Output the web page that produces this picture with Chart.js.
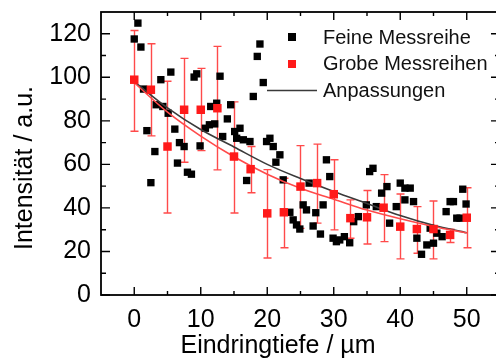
<!DOCTYPE html>
<html lang="de">
<head>
<meta charset="utf-8">
<title>Intensität über Eindringtiefe</title>
<script src="https://cdn.jsdelivr.net/npm/chart.js@4.4.1/dist/chart.umd.min.js"></script>
<style>
  html, body { margin: 0; padding: 0; background: #fff; }
  canvas { display: block; }
</style>
</head>
<body>
<canvas id="chart" width="496" height="360"></canvas>
<script>
/* global Chart */

// Feine Messreihe (black squares)
const fineX = [0.55, 0.0, 1.0, 1.4, 1.9, 2.5, 3.1, 3.3, 4.0, 4.3, 5.1, 5.5, 6.1, 6.5, 6.8, 7.5,
  8.0, 8.6, 9.0, 9.4, 9.9, 10.7, 11.3, 11.5, 12.1, 12.4, 12.9, 13.3, 14.0, 14.5, 15.1, 15.4,
  15.9, 16.4, 16.9, 17.4, 17.9, 18.5, 18.9, 19.4, 19.9, 20.4, 20.9, 21.3, 21.9, 22.4, 23.4,
  23.9, 24.4, 24.9, 25.4, 25.9, 26.3, 26.9, 27.3, 28.0, 28.4, 28.9, 29.4, 29.9, 30.4, 30.9,
  31.6, 32.4, 33.0, 33.7, 34.9, 35.4, 35.9, 36.4, 37.2, 38.0, 38.4, 39.4, 40.0, 40.7, 41.5,
  40.7, 42.0, 42.5, 43.2, 44.0, 45.0, 44.5, 45.5, 46.3, 46.9, 47.5, 48.0, 48.5, 49.0, 49.4, 49.9];
const fineY = [124.9, 117.6, 113.9, 94.6, 75.5, 51.6, 65.9, 87.4, 98.9, 86.6, 83.5, 102.4, 76.2,
  60.6, 70.0, 68.2, 56.4, 55.5, 100.1, 101.6, 68.5, 76.6, 78.2, 86.6, 78.6, 88.1, 100.5, 72.8,
  80.9, 87.4, 75.1, 72.0, 76.6, 71.3, 52.6, 70.5, 91.2, 109.6, 115.3, 97.6, 70.5, 72.0, 68.2,
  61.0, 64.4, 52.9, 38.0, 34.5, 32.2, 30.3, 41.4, 39.1, 51.4, 31.7, 37.8, 28.0, 41.4, 62.1,
  54.4, 26.1, 24.5, 25.3, 26.8, 24.0, 33.7, 36.0, 41.4, 56.7, 58.2, 40.6, 46.8, 49.8, 33.0,
  40.6, 51.4, 49.1, 49.1, 43.7, 42.9, 26.1, 18.7, 23.0, 23.8, 30.7, 28.4, 26.8, 38.3, 42.9,
  42.9, 35.3, 35.3, 48.6, 41.8];

// Grobe Messreihen (red squares with error bars)
const coarseX = [0, 2.5, 5, 7.5, 10, 12.5, 15, 17.5, 20, 22.5, 25, 27.5, 30, 32.5, 35, 37.5,
  40, 42.5, 45, 47.5, 50];
const coarseY = [98.9, 94.3, 68.2, 85.1, 85.1, 85.8, 63.6, 57.8, 37.5, 38.0, 49.8, 51.4, 46.3,
  35.3, 35.7, 40.1, 31.4, 30.3, 30.3, 27.6, 35.5];
const coarseHigh = [121.5, 115.4, 98.2, 108.7, 104.1, 114.2, 88.7, 68.2, 57.6, 53.6, 68.6, 69.3,
  62.1, 43.7, 48.0, 55.3, 46.4, 40.6, 43.2, 30.2, 49.3];
const coarseLow = [75.2, 73.1, 37.7, 61.0, 66.3, 57.5, 37.7, 47.0, 17.0, 21.7, 30.6, 33.0, 29.9,
  26.1, 23.4, 24.5, 16.6, 19.2, 16.6, 24.1, 21.7];

// Anpassungen (fit curves)
const fitX = [0, 5, 10, 15, 20, 25, 30, 35, 40, 45, 50];
const fitFineY = [98, 86, 76, 68, 60, 53.5, 47.5, 42, 36.5, 32, 28.6];
const fitCoarseY = [97.5, 84, 73, 63.5, 55.5, 49, 44, 39, 35, 31.5, 28.5];

// axes
const xRange = [-5, 54.4];   // picture is cropped just before 55
const xFrameEnd = 55;
const yRange = [0, 130];
const xTicks = [0, 10, 20, 30, 40, 50];
const xMinor = [5, 15, 25, 35, 45];
const yTicks = [0, 20, 40, 60, 80, 100, 120];
const yMinor = [10, 30, 50, 70, 90, 110];

const legendLabels = ['Feine Messreihe', 'Grobe Messreihen', 'Anpassungen'];
const xTitle = 'Eindringtiefe / µm';
const yTitle = 'Intensität / a.u.';

const FONT = '"Liberation Sans", Arial, Helvetica, sans-serif';
const RED = '#ff1a1a';
const RED_LIGHT = '#ff4a4a';
const DARK = '#3a3a3a';

const toPoints = (xs, ys) => xs.map((v, i) => ({ x: v, y: ys[i] }));

// no extra room for overhanging tick labels, the frame is placed by hand
const noPadding = (scale) => {
    scale.paddingLeft = 0;
    scale.paddingRight = 0;
    scale.paddingTop = 0;
    scale.paddingBottom = 0;
};

const errorBars = {
    id: 'errorBars',
    beforeDatasetsDraw(chart) {
        const { ctx, scales: { x, y } } = chart;
        ctx.save();
        ctx.strokeStyle = RED_LIGHT;
        ctx.lineWidth = 1.4;
        coarseX.forEach((v, i) => {
            const px = Math.round(x.getPixelForValue(v)) + 0.5;
            const top = y.getPixelForValue(coarseHigh[i]);
            const bot = y.getPixelForValue(coarseLow[i]);
            ctx.beginPath();
            ctx.moveTo(px, top); ctx.lineTo(px, bot);
            ctx.moveTo(px - 4, top); ctx.lineTo(px + 4, top);
            ctx.moveTo(px - 4, bot); ctx.lineTo(px + 4, bot);
            ctx.stroke();
        });
        ctx.restore();
    }
};

const frame = {
    id: 'frame',
    afterDraw(chart) {
        const { ctx, scales: { x, y } } = chart;
        const left = x.getPixelForValue(xRange[0]);
        const right = x.getPixelForValue(xFrameEnd);
        const top = y.getPixelForValue(yRange[1]);
        const bottom = y.getPixelForValue(yRange[0]);
        ctx.save();
        ctx.strokeStyle = '#000';
        ctx.lineWidth = 1.8;
        ctx.strokeRect(left, top, right - left, bottom - top);

        ctx.lineWidth = 1.4;
        ctx.beginPath();
        const xTick = (v, len) => {
            const px = x.getPixelForValue(v);
            ctx.moveTo(px, bottom); ctx.lineTo(px, bottom - len);
            ctx.moveTo(px, top); ctx.lineTo(px, top + len);
        };
        const yTick = (v, len) => {
            const py = y.getPixelForValue(v);
            ctx.moveTo(left, py); ctx.lineTo(left + len, py);
            ctx.moveTo(right, py); ctx.lineTo(right - len, py);
        };
        xTicks.forEach(v => xTick(v, 8));
        xMinor.forEach(v => xTick(v, 4));
        yTicks.forEach(v => yTick(v, 9));
        yMinor.forEach(v => yTick(v, 5));
        ctx.stroke();

        // axis titles
        ctx.fillStyle = '#000';
        ctx.font = `25px ${FONT}`;
        ctx.textAlign = 'center';
        ctx.textBaseline = 'middle';
        ctx.fillText(xTitle, 278, 346);
        ctx.translate(25, 168);
        ctx.rotate(-Math.PI / 2);
        ctx.fillText(yTitle, 0, 0);
        ctx.restore();

        // legend
        ctx.save();
        ctx.font = `20px ${FONT}`;
        ctx.textAlign = 'left';
        ctx.textBaseline = 'middle';
        ctx.fillStyle = '#000';
        ctx.fillRect(288, 33, 8, 8);
        ctx.fillStyle = RED;
        ctx.fillRect(288, 60, 8, 8);
        ctx.strokeStyle = DARK;
        ctx.lineWidth = 1.5;
        ctx.beginPath();
        ctx.moveTo(267, 90.5); ctx.lineTo(317, 90.5);
        ctx.stroke();
        ctx.fillStyle = '#111';
        legendLabels.forEach((t, i) => ctx.fillText(t, 323, 38 + i * 26.5));
        ctx.restore();
    }
};

new Chart(document.getElementById('chart'), {
    type: 'scatter',
    data: {
        datasets: [
            {
                label: legendLabels[1],
                data: toPoints(coarseX, coarseY),
                pointStyle: 'rect',
                pointRadius: 6,
                backgroundColor: RED,
                borderWidth: 0
            },
            {
                label: legendLabels[2],
                data: toPoints(fitX, fitCoarseY),
                showLine: true,
                pointRadius: 0,
                borderColor: RED_LIGHT,
                borderWidth: 1.6,
                cubicInterpolationMode: 'monotone'
            },
            {
                label: legendLabels[2],
                data: toPoints(fitX, fitFineY),
                showLine: true,
                pointRadius: 0,
                borderColor: DARK,
                borderWidth: 1.6,
                cubicInterpolationMode: 'monotone'
            },
            {
                label: legendLabels[0],
                data: toPoints(fineX, fineY),
                pointStyle: 'rect',
                pointRadius: 5.2,
                backgroundColor: '#000',
                borderWidth: 0
            }
        ]
    },
    options: {
        responsive: false,
        animation: false,
        // autoPadding would keep 6px free on the right for the markers
        layout: { autoPadding: false, padding: { top: 12, right: 0, left: 0, bottom: 0 } },
        plugins: {
            legend: { display: false },
            tooltip: { enabled: false }
        },
        scales: {
            x: {
                type: 'linear',
                min: xRange[0],
                max: xRange[1],
                grid: { display: false, drawTicks: false },
                border: { display: false },
                afterBuildTicks: (scale) => { scale.ticks = xTicks.map(v => ({ value: v })); },
                afterFit: (scale) => { scale.height = 65; noPadding(scale); },
                ticks: {
                    padding: 10,
                    color: '#000',
                    maxRotation: 0,
                    font: { family: FONT, size: 25 }
                }
            },
            y: {
                type: 'linear',
                min: yRange[0],
                max: yRange[1],
                grid: { display: false, drawTicks: false },
                border: { display: false },
                afterBuildTicks: (scale) => { scale.ticks = yTicks.map(v => ({ value: v })); },
                afterFit: (scale) => { scale.width = 101; noPadding(scale); },
                ticks: {
                    padding: 10,
                    color: '#000',
                    font: { family: FONT, size: 25 }
                }
            }
        }
    },
    plugins: [errorBars, frame]
});
</script>
</body>
</html>
